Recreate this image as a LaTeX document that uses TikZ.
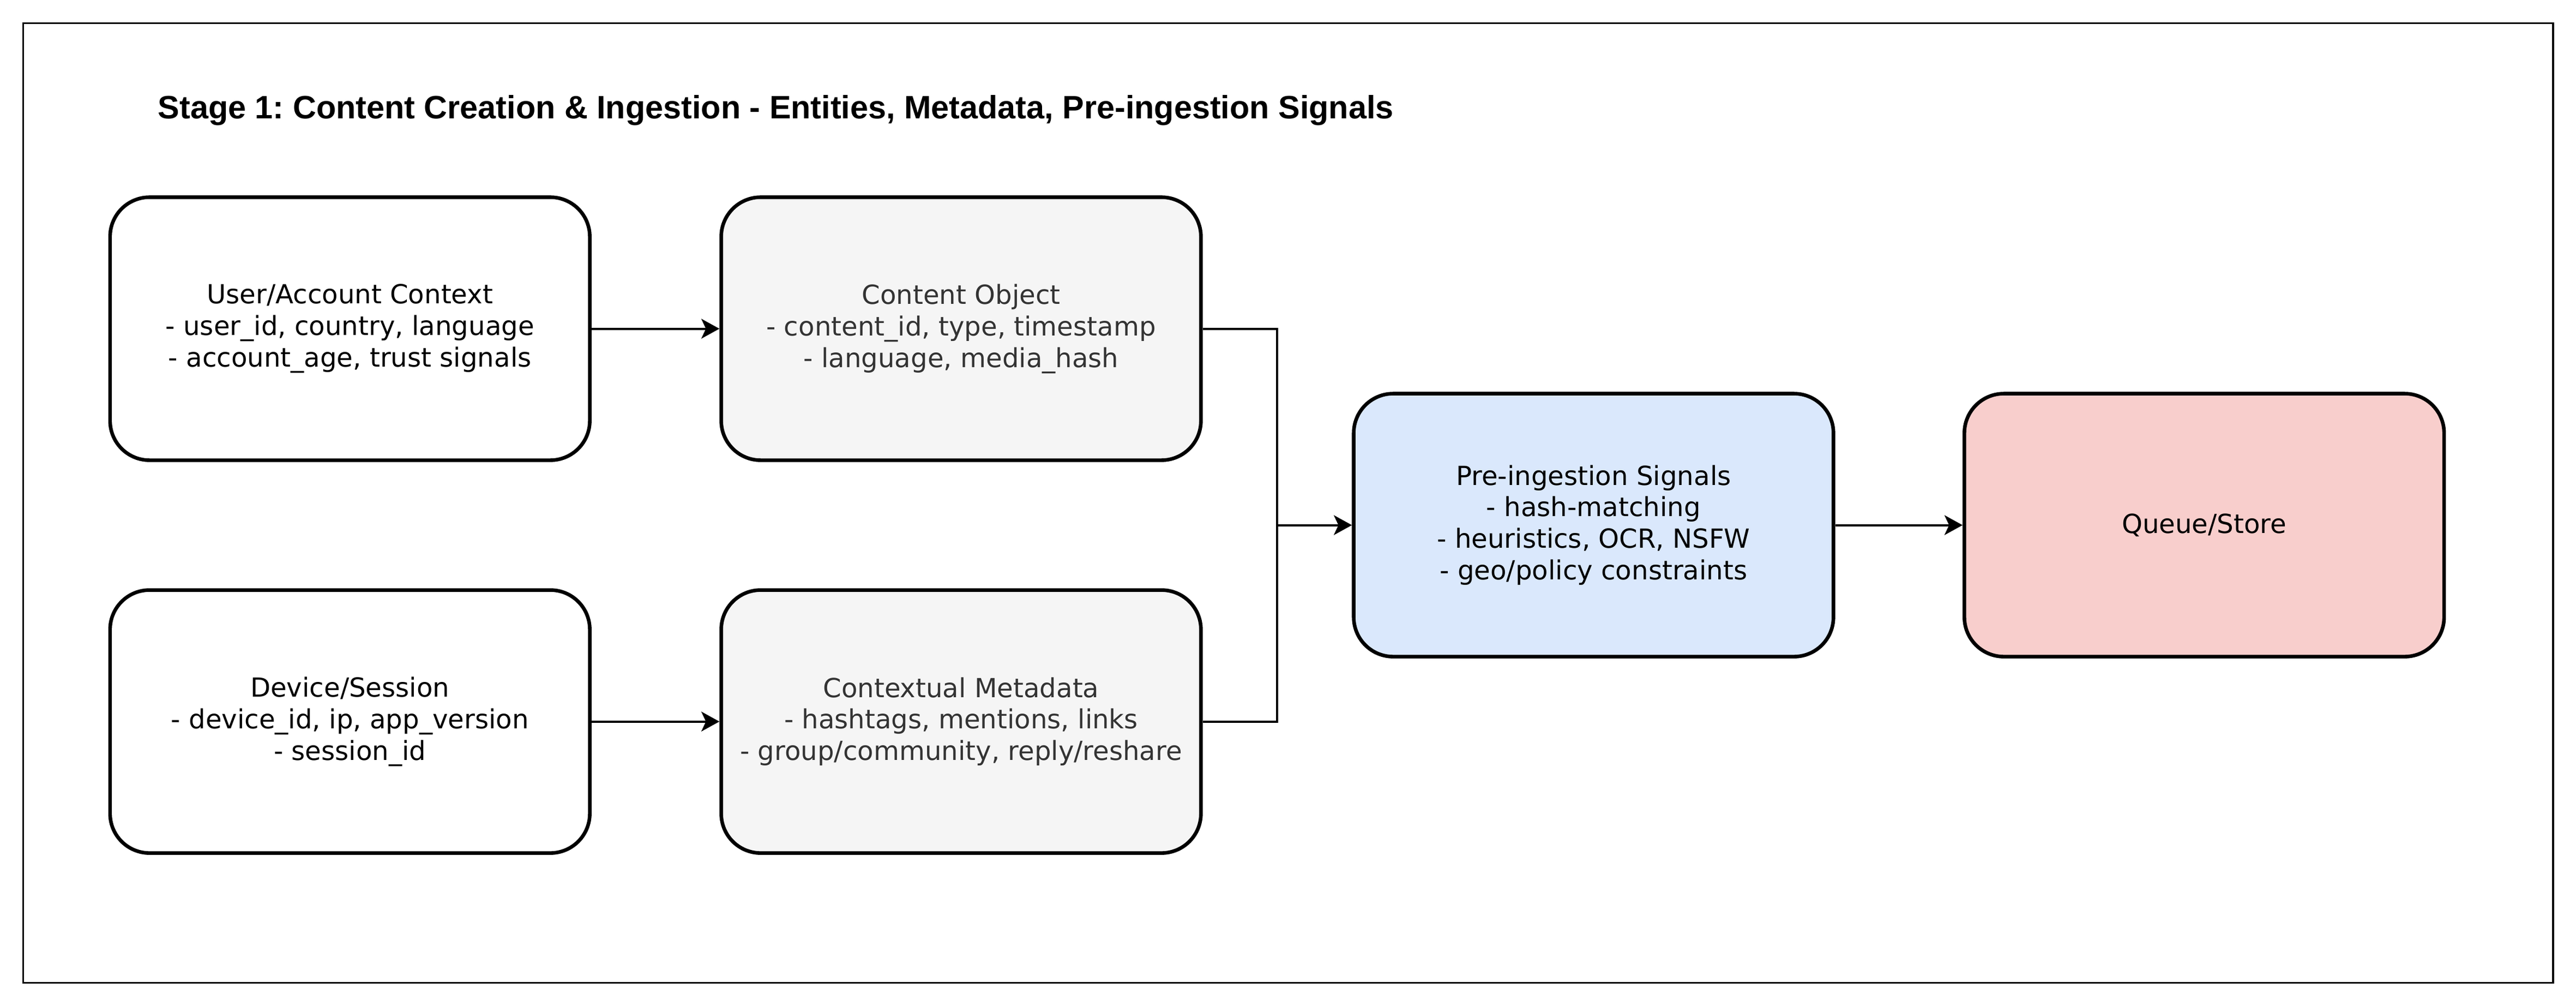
\documentclass[tikz,border=0pt]{standalone}
\usepackage{fontspec}
\setmainfont{DejaVu Sans}
\newfontfamily\titlefont{Liberation Sans}
\usetikzlibrary{arrows.meta}
\definecolor{grayfill}{HTML}{F5F5F5}
\definecolor{graytext}{HTML}{333333}
\definecolor{bluefill}{HTML}{DAE8FC}
\definecolor{redfill}{HTML}{F8CECC}
\frenchspacing
\tikzset{
  box/.style={draw=black, line width=2.2pt, rounded corners=24pt,
    minimum width=292pt, minimum height=160pt, align=center,
    inner sep=0pt, font=\fontsize{16}{19.2}\selectfont, text=black},
  graybox/.style={box, fill=grayfill, text=graytext},
  whitebox/.style={box, fill=white},
  conn/.style={draw=black, line width=1.3pt,
    -{Stealth[length=11pt, width=12pt, inset=2.8pt]}},
  plainconn/.style={draw=black, line width=1.3pt}
}
\begin{document}
\begin{tikzpicture}[x=1pt, y=-1pt]
\useasboundingbox (0,0) rectangle (1568,612.06);
\fill[white] (0,0) rectangle (1568,612.06);
\draw[line width=1.1pt] (14,14) rectangle (1554,598);
\node[anchor=west, inner sep=0pt] (title) at (96,67)
  {\resizebox{752pt}{!}{\titlefont\bfseries\fontsize{16}{19}\selectfont Stage 1: Content Creation \& Ingestion - Entities, Metadata, Pre-ingestion Signals}};
\node[whitebox] (user) at (213,200) {User/Account Context\\- user\_id, country, language\\- account\_age, trust signals};
\node[graybox] (content) at (585,200) {Content Object\\- content\_id, type, timestamp\\- language, media\_hash};
\node[whitebox] (device) at (213,439) {Device/Session\\- device\_id, ip, app\_version\\- session\_id};
\node[graybox] (ctx) at (585,439) {Contextual Metadata\\- hashtags, mentions, links\\- group/community, reply/reshare};
\node[box, fill=bluefill] (pre) at (970,319.5) {Pre-ingestion Signals\\- hash-matching\\- heuristics, OCR, NSFW\\- geo/policy constraints};
\node[box, fill=redfill] (queue) at (1341.7,319.5) {Queue/Store};
\coordinate (j) at (777.4,319.5);
\draw[conn] (user) -- (content);
\draw[conn] (device) -- (ctx);
\draw[plainconn] (content.east) -| (j);
\draw[plainconn] (ctx.east) -| (j);
\draw[conn] (j) -- (pre);
\draw[conn] (pre) -- (queue);
\end{tikzpicture}
\end{document}
